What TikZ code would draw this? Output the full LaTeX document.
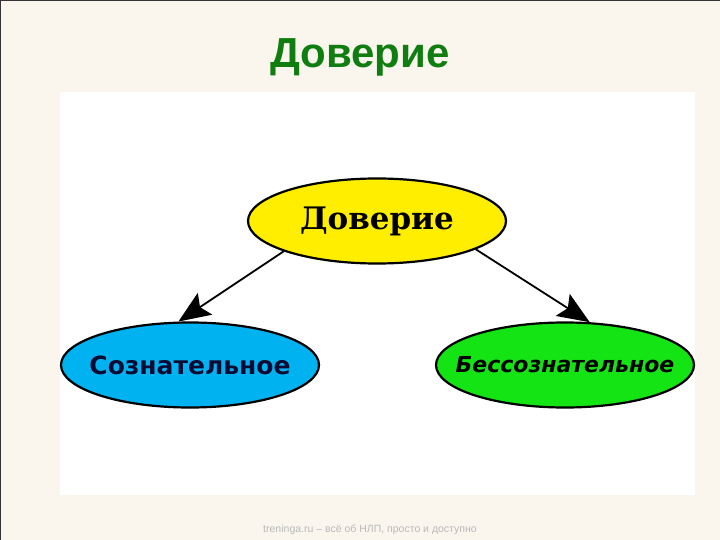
\documentclass[tikz,border=0pt]{standalone}
\usepackage{fontspec}
\setmainfont{Liberation Sans}
\newfontfamily\serifheavy{DejaVu Serif}
\newfontfamily\sansheavy{DejaVu Sans}
\usetikzlibrary{arrows.meta,positioning,shapes.geometric}
\definecolor{cream}{RGB}{250,246,238}
\definecolor{titlegreen}{RGB}{16,125,16}
\definecolor{bubbleyellow}{RGB}{255,238,0}
\definecolor{bubbleblue}{RGB}{0,178,240}
\definecolor{bubblegreen}{RGB}{20,228,20}
\definecolor{footgray}{RGB}{185,185,185}
\definecolor{inknavy}{RGB}{10,10,50}

\begin{document}
\begin{tikzpicture}[x=1pt,y=-1pt,>={Stealth[length=32pt,width=26pt,inset=6pt]},
  bubble/.style={ellipse,draw=black,line width=2.2pt,minimum width=258pt,minimum height=85pt,inner sep=0pt}]
  \useasboundingbox (0,0) rectangle (720,540);
  \fill[cream] (0,0) rectangle (720,540);
  \draw[line width=1pt,black!80] (0.5,540) -- (0.5,0.5) -- (720,0.5);
  \fill[white] (60,92) rectangle (695,495);

  \node[font=\bfseries\fontsize{42}{42}\selectfont,color=titlegreen] (title) at (360,57) {Доверие};
  \node[bubble,fill=bubbleyellow,label={[font=\serifheavy\bfseries\fontsize{31}{31}\selectfont]center:Доверие}] (1) at (377,221) {};
  \node[bubble,fill=bubbleblue,on grid,label={[font=\sansheavy\bfseries\fontsize{25}{25}\selectfont,color=inknavy]center:Сознательное}] (2) [below left=144pt and 187pt of 1] {};
  \node[bubble,fill=bubblegreen,on grid,label={[font=\sansheavy\bfseries\itshape\fontsize{22}{22}\selectfont]center:Бессознательное}] (3) [below right=144pt and 188pt of 1] {};
  \node[font=\fontsize{10.5}{10.5}\selectfont,color=footgray] (foot) at (370,530) {treninga.ru – всё об НЛП, просто и доступно};

  \path[->,line width=1.8pt]
    (1.198) edge (2.105)
    (1.344) edge (3.60);
\end{tikzpicture}
\end{document}
